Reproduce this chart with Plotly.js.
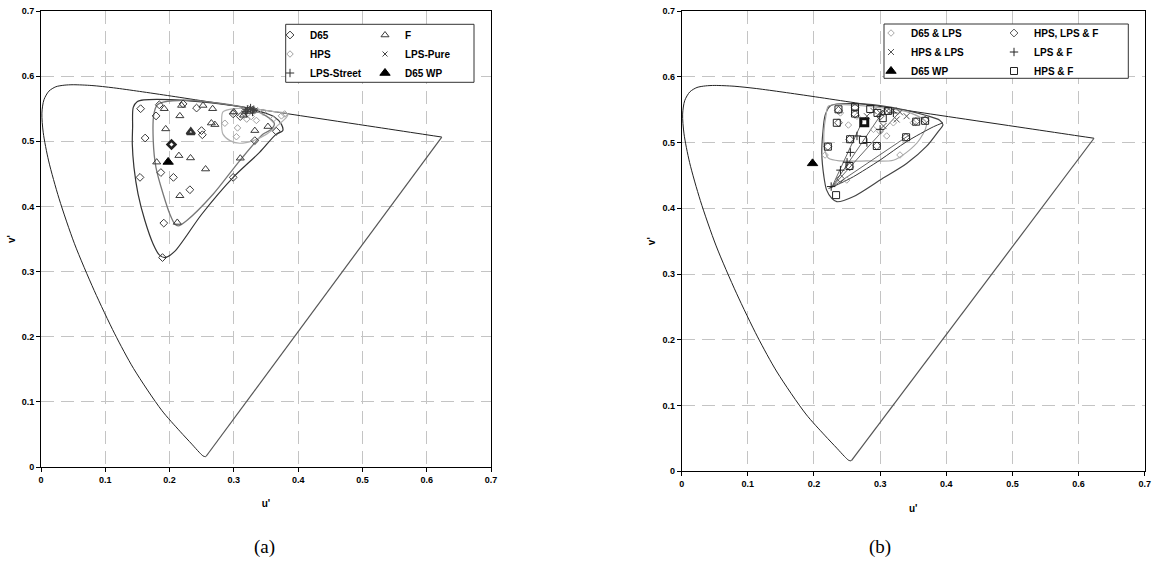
<!DOCTYPE html>
<html>
<head>
<meta charset="utf-8">
<script src="https://cdn.plot.ly/plotly-3.0.1.min.js"></script>
<style>html,body{margin:0;padding:0;background:#fff;}#chart{width:1153px;height:577px;}</style>
</head>
<body>
<div id="chart"></div>
<script>
// ---- CIE 1976 spectral locus (u', v') ----
const locusU = [0.2569, 0.2557, 0.2522, 0.2461, 0.2347, 0.2161, 0.1877, 0.1441, 0.1147, 0.0828, 0.0521, 0.0282, 0.0119, 0.0035, 0.0014, 0.0046, 0.0123, 0.0231, 0.0360, 0.0501, 0.0792, 0.1127, 0.1531, 0.2026, 0.2623, 0.3315, 0.4035, 0.5203, 0.6005, 0.6234];
const locusV = [0.0165, 0.0159, 0.0169, 0.0226, 0.0350, 0.0549, 0.0871, 0.1510, 0.2044, 0.2708, 0.3427, 0.4117, 0.4698, 0.5131, 0.5432, 0.5638, 0.5770, 0.5837, 0.5861, 0.5868, 0.5856, 0.5821, 0.5766, 0.5694, 0.5604, 0.5501, 0.5393, 0.5219, 0.5099, 0.5065];

// ---- Panel (a) gamut contours ----
const a_contD65U = [0.160, 0.200, 0.250, 0.300, 0.340, 0.362, 0.374, 0.376, 0.366, 0.340, 0.299, 0.250, 0.208, 0.193, 0.184, 0.1746, 0.1617, 0.151, 0.1446, 0.142, 0.1425, 0.1435, 0.150, 0.160];
const a_contD65V = [0.5635, 0.5640, 0.5605, 0.5545, 0.5460, 0.5380, 0.5260, 0.5160, 0.5110, 0.4830, 0.4446, 0.3880, 0.3310, 0.3215, 0.3256, 0.3420, 0.3780, 0.4190, 0.4600, 0.4960, 0.5215, 0.5520, 0.5610, 0.5635];
const a_contFU = [0.190, 0.230, 0.280, 0.320, 0.350, 0.363, 0.358, 0.3456, 0.309, 0.268, 0.2264, 0.2135, 0.208, 0.2005, 0.190, 0.1788, 0.1746, 0.1756, 0.181, 0.190];
const a_contFV = [0.5600, 0.5630, 0.5580, 0.5510, 0.5390, 0.5270, 0.5180, 0.5110, 0.4700, 0.4190, 0.3780, 0.3700, 0.3730, 0.3880, 0.4190, 0.4600, 0.5010, 0.5420, 0.5560, 0.5600];
const a_contHPSU = [0.283, 0.300, 0.330, 0.360, 0.384, 0.382, 0.371, 0.351, 0.330, 0.309, 0.294, 0.283, 0.281, 0.283];
const a_contHPSV = [0.5450, 0.5500, 0.5500, 0.5460, 0.5420, 0.5370, 0.5267, 0.5110, 0.5010, 0.4970, 0.5010, 0.5110, 0.5320, 0.5450];

// ---- Panel (a) data points ----
const a_d65U = [0.155, 0.184, 0.179, 0.162, 0.154, 0.1865, 0.206, 0.2316, 0.191, 0.189, 0.221, 0.242, 0.2497, 0.251, 0.299, 0.3326, 0.366, 0.299, 0.310];
const a_d65V = [0.550, 0.556, 0.539, 0.505, 0.4446, 0.452, 0.4446, 0.4256, 0.3744, 0.3215, 0.5574, 0.551, 0.5164, 0.510, 0.4446, 0.501, 0.5154, 0.542, 0.538];
const a_d65MeanU = [0.203];
const a_d65MeanV = [0.495];
const a_fU = [0.1917, 0.2187, 0.252, 0.267, 0.216, 0.194, 0.265, 0.2705, 0.180, 0.2145, 0.2326, 0.256, 0.310, 0.216, 0.212, 0.3326, 0.353, 0.300, 0.315];
const a_fV = [0.550, 0.555, 0.555, 0.550, 0.539, 0.519, 0.528, 0.5256, 0.468, 0.478, 0.4744, 0.4574, 0.474, 0.4164, 0.3754, 0.5164, 0.5226, 0.545, 0.540];
const a_fMeanU = [0.233];
const a_fMeanV = [0.514];
const a_hpsU = [0.286, 0.3057, 0.304, 0.320, 0.335, 0.3326, 0.361, 0.374, 0.379, 0.299, 0.317, 0.3456, 0.327, 0.312];
const a_hpsV = [0.5277, 0.5205, 0.507, 0.534, 0.532, 0.547, 0.534, 0.539, 0.542, 0.5446, 0.547, 0.5446, 0.538, 0.540];
const a_lpsPureU = [0.316, 0.320, 0.322, 0.325, 0.328, 0.330, 0.324, 0.327, 0.333];
const a_lpsPureV = [0.547, 0.549, 0.548, 0.550, 0.549, 0.547, 0.546, 0.551, 0.548];
const a_lpsStreetU = [0.318, 0.321, 0.326, 0.331, 0.320, 0.329];
const a_lpsStreetV = [0.546, 0.549, 0.551, 0.548, 0.543, 0.545];
const wpU = [0.1978];
const wpV = [0.4683];

// ---- Panel (b) contours and mixing lines ----
const b_contOuterU = [0.225, 0.260, 0.300, 0.340, 0.370, 0.390, 0.395, 0.388, 0.370, 0.340, 0.300, 0.260, 0.2345, 0.2269, 0.219, 0.215, 0.2118, 0.2133, 0.217, 0.225];
const b_contOuterV = [0.5560, 0.5590, 0.5560, 0.5490, 0.5410, 0.5340, 0.5270, 0.5170, 0.4940, 0.4680, 0.4430, 0.4180, 0.4100, 0.4150, 0.4280, 0.4480, 0.4836, 0.5140, 0.5420, 0.5560];
const b_contD65LPSU = [0.222, 0.260, 0.300, 0.340, 0.370, 0.360, 0.340, 0.320, 0.280, 0.240, 0.222, 0.216, 0.215, 0.218, 0.222];
const b_contD65LPSV = [0.5555, 0.5570, 0.5530, 0.5470, 0.5300, 0.5050, 0.4850, 0.4730, 0.4720, 0.4720, 0.4760, 0.4900, 0.5150, 0.5400, 0.5555];
const b_curveU = [0.222, 0.240, 0.2596, 0.300, 0.340, 0.3807, 0.395];
const b_curveV = [0.430, 0.438, 0.448, 0.4734, 0.5013, 0.524, 0.530];
const b_mixU = [0.227, 0.273, null, 0.227, 0.305, null, 0.227, 0.330, null, 0.227, 0.345];
const b_mixV = [0.432, 0.532, null, 0.432, 0.548, null, 0.432, 0.547, null, 0.432, 0.512];

// ---- Panel (b) data points ----
const b_d65lpsU = [0.252, 0.2168, 0.330, 0.2496, 0.300, 0.290, 0.310, 0.240, 0.265, 0.320, 0.350];
const b_d65lpsV = [0.5266, 0.481, 0.481, 0.443, 0.5165, 0.520, 0.510, 0.545, 0.540, 0.530, 0.530];
const b_hpslpsfU = [0.237, 0.262, 0.262, 0.237, 0.254, 0.295, 0.221, 0.254, 0.240, 0.339, 0.354, 0.368, 0.300, 0.310];
const b_hpslpsfV = [0.549, 0.553, 0.543, 0.530, 0.505, 0.495, 0.494, 0.463, 0.445, 0.508, 0.532, 0.534, 0.540, 0.548];
const b_hpslpsU = [0.300, 0.310, 0.320, 0.330, 0.280, 0.290, 0.340, 0.325, 0.305];
const b_hpslpsV = [0.545, 0.548, 0.549, 0.546, 0.540, 0.548, 0.540, 0.535, 0.525];
const b_lpsfU = [0.226, 0.240, 0.255, 0.265, 0.250, 0.280, 0.300, 0.320];
const b_lpsfV = [0.433, 0.458, 0.485, 0.510, 0.470, 0.500, 0.520, 0.545];
const b_hpsfU = [0.237, 0.262, 0.262, 0.2345, 0.304, 0.2546, 0.274, 0.295, 0.221, 0.2536, 0.2334, 0.3393, 0.3545, 0.368, 0.285, 0.296, 0.312];
const b_hpsfV = [0.5505, 0.5535, 0.544, 0.530, 0.537, 0.505, 0.504, 0.4947, 0.4937, 0.4643, 0.420, 0.508, 0.5317, 0.533, 0.551, 0.545, 0.548];
const b_hpsfMeanU = [0.276];
const b_hpsfMeanV = [0.531];

// ---- tick labels ----
const tickVals = [0, 0.1, 0.2, 0.3, 0.4, 0.5, 0.6, 0.7];
const tickText = ['0', '0.1', '0.2', '0.3', '0.4', '0.5', '0.6', '0.7'];

const W = 1153, H = 577;
const px = v => v / W, py = v => 1 - v / H;

function lineTrace(u, v, ax, color, width, shape) {
  return {x: u, y: v, xaxis: ax[0], yaxis: ax[1], mode: 'lines', showlegend: false, hoverinfo: 'skip',
    line: {color: color, width: width, shape: shape || 'linear', smoothing: 0.8}};
}
function markTrace(u, v, ax, name, legend, symbol, color, size, lw) {
  const t = {x: u, y: v, xaxis: ax[0], yaxis: ax[1], mode: 'markers', name: name,
    marker: {symbol: symbol, color: color, size: size, line: {color: color, width: lw}}};
  if (legend) t.legend = legend; else t.showlegend = false;
  return t;
}

const A = ['x', 'y'], B = ['x2', 'y2'];
const locusEndU = [locusU[locusU.length - 1], locusU[0]];
const locusEndV = [locusV[locusV.length - 1], locusV[0]];

const data = [
  // panel (a) lines
  lineTrace(locusU, locusV, A, '#222', 1, 'spline'),
  lineTrace(locusEndU, locusEndV, A, '#555', 1.2),
  lineTrace(a_contD65U, a_contD65V, A, '#333', 1.2, 'spline'),
  lineTrace(a_contFU, a_contFV, A, '#777', 1.3, 'spline'),
  lineTrace(a_contHPSU, a_contHPSV, A, '#b0b0b0', 1.2, 'spline'),
  // panel (a) markers: legend col 1 then col 2
  markTrace(a_d65U, a_d65V, A, 'D65', 'legend', 'diamond-open', '#3a3a3a', 6, 1),
  markTrace(a_hpsU, a_hpsV, A, 'HPS', 'legend', 'diamond-open', '#a0a0a0', 5, 1),
  markTrace(a_lpsStreetU, a_lpsStreetV, A, 'LPS-Street', 'legend', 'cross-thin-open', '#333', 6, 1),
  markTrace(a_fU, a_fV, A, 'F', 'legend2', 'triangle-up-open', '#3a3a3a', 7, 1),
  markTrace(a_lpsPureU, a_lpsPureV, A, 'LPS-Pure', 'legend2', 'x-thin-open', '#444', 5, 1),
  markTrace(a_d65MeanU, a_d65MeanV, A, 'D65 mean', null, 'diamond-open', '#222', 6, 2.6),
  markTrace(a_fMeanU, a_fMeanV, A, 'F mean', null, 'triangle-up-open', '#333', 7, 2.6),
  markTrace(wpU, wpV, A, 'D65 WP', 'legend2', 'triangle-up', '#000', 9, 1),
  // panel (b) lines
  lineTrace(locusU, locusV, B, '#222', 1, 'spline'),
  lineTrace(locusEndU, locusEndV, B, '#555', 1.2),
  lineTrace(b_contOuterU, b_contOuterV, B, '#444', 1.2, 'spline'),
  lineTrace(b_contD65LPSU, b_contD65LPSV, B, '#a8a8a8', 1.2, 'spline'),
  lineTrace(b_curveU, b_curveV, B, '#333', 1, 'spline'),
  lineTrace(b_mixU, b_mixV, B, '#555', 0.9),
  // panel (b) markers
  markTrace(b_d65lpsU, b_d65lpsV, B, 'D65 & LPS', 'legend3', 'diamond-open', '#a8a8a8', 5, 1),
  markTrace(b_hpslpsU, b_hpslpsV, B, 'HPS & LPS', 'legend3', 'x-thin-open', '#555', 6, 1),
  markTrace(wpU, wpV, B, 'D65 WP', 'legend3', 'triangle-up', '#000', 9, 1),
  markTrace(b_hpslpsfU, b_hpslpsfV, B, 'HPS, LPS & F', 'legend4', 'diamond-open', '#555', 6, 1),
  markTrace(b_lpsfU, b_lpsfV, B, 'LPS & F', 'legend4', 'cross-thin-open', '#222', 6, 1),
  markTrace(b_hpsfU, b_hpsfV, B, 'HPS & F', 'legend4', 'square-open', '#222', 7, 1),
  markTrace(b_hpsfMeanU, b_hpsfMeanV, B, 'HPS & F mean', null, 'square-open', '#111', 7, 3)
];

const tickFont = {family: 'Liberation Sans, Arial, sans-serif', size: 9, color: '#000', weight: 'bold'};
const titleFont = {family: 'Liberation Sans, Arial, sans-serif', size: 10, color: '#000', weight: 'bold'};
function axis(domain, anchor, title, standoff) {
  return {domain: domain, anchor: anchor, range: [0, 0.7], tickvals: tickVals, ticktext: tickText,
    showgrid: true, gridcolor: '#c4c4c4', gridwidth: 1, griddash: '13px,7px', zeroline: false,
    showline: true, mirror: true, linecolor: '#000', linewidth: 1, ticks: 'outside', ticklen: 4,
    tickcolor: '#000', tickfont: tickFont, automargin: false, fixedrange: true,
    title: {text: title, font: titleFont, standoff: standoff}};
}
const legFont = {family: 'Liberation Sans, Arial, sans-serif', size: 10, color: '#000', weight: 'bold'};
function leg(xp, yp) {
  return {x: px(xp), y: py(yp), xref: 'paper', yref: 'paper', xanchor: 'left', yanchor: 'top',
    bgcolor: 'rgba(0,0,0,0)', borderwidth: 0, font: legFont, traceorder: 'normal'};
}

const layout = {
  width: W, height: H,
  margin: {l: 0, r: 0, t: 0, b: 0},
  paper_bgcolor: '#fff', plot_bgcolor: '#fff',
  xaxis: axis([px(41), px(491)], 'y', "u'", 16),
  yaxis: axis([1 - 467 / H, 1 - 11 / H], 'x', "v'", 4),
  xaxis2: axis([px(681.7), px(1144.7)], 'y2', "u'", 16),
  yaxis2: axis([1 - 471.3 / H, 1 - 11 / H], 'x2', "v'", 4),
  legend: leg(270, 20.5),
  legend2: leg(365, 20.5),
  legend3: leg(871, 18.5),
  legend4: leg(994, 18.5),
  shapes: [
    {type: 'rect', xref: 'paper', yref: 'paper', x0: px(285.7), x1: px(474), y0: py(82.3), y1: py(24.3),
      line: {color: '#333', width: 1}, fillcolor: '#fff', layer: 'above'},
    {type: 'rect', xref: 'paper', yref: 'paper', x0: px(884), x1: px(1128.3), y0: py(78.3), y1: py(24),
      line: {color: '#333', width: 1}, fillcolor: '#fff', layer: 'above'}
  ],
  annotations: [
    {text: '(a)', xref: 'paper', yref: 'paper', x: px(252), y: py(560), showarrow: false,
      font: {family: 'Liberation Serif, Times New Roman, serif', size: 19, color: '#000'}},
    {text: '(b)', xref: 'paper', yref: 'paper', x: px(893), y: py(560), showarrow: false,
      font: {family: 'Liberation Serif, Times New Roman, serif', size: 19, color: '#000'}}
  ]
};

Plotly.newPlot('chart', data, layout, {staticPlot: true, displayModeBar: false});
</script>
</body>
</html>
